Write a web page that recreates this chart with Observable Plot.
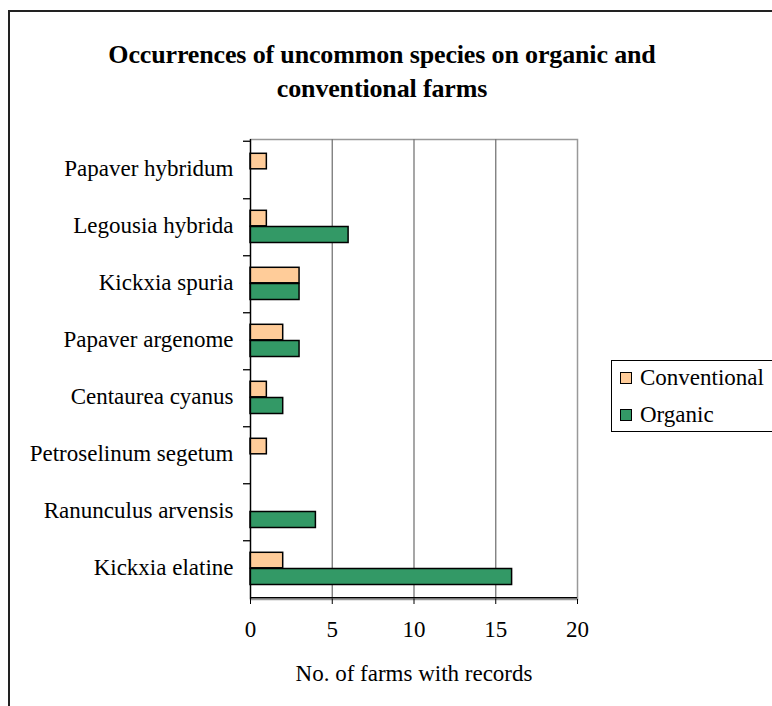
<!DOCTYPE html>
<html><head><meta charset="utf-8">
<script src="https://cdn.jsdelivr.net/npm/d3@7"></script>
<script src="https://cdn.jsdelivr.net/npm/@observablehq/plot@0.6"></script>
<style>
body{margin:0;background:#fff;}
#wrap{position:relative;width:772px;height:706px;overflow:hidden;font-family:"Liberation Serif","Times New Roman",serif;color:#000;}
#frame{position:absolute;left:8px;top:10px;width:900px;height:900px;border-left:2px solid #222;border-top:2px solid #222;pointer-events:none;}
#title{position:relative;height:116px;box-sizing:border-box;padding-top:38px;width:764px;text-align:center;font-weight:bold;font-size:26px;line-height:34px;letter-spacing:-0.15px;font-family:"Liberation Serif",serif;}
#chart svg{display:block;font-family:"Liberation Serif",serif !important;}
#chart svg text{font-family:"Liberation Serif",serif !important;}
#legend{position:absolute;left:611px;top:360px;width:200px;height:72px;border:1px solid #000;box-sizing:border-box;background:#fff;font-family:"Liberation Serif",serif;}
.item{position:absolute;left:8px;height:14px;}
.sw{position:absolute;left:0;top:0;width:10px;height:10px;border:1.5px solid #000;}
.lab{position:absolute;left:20px;top:-9px;font-size:23px;line-height:30px;white-space:nowrap;}
</style>
</head><body>
<div id="wrap">
  <div id="frame"></div>
  <div id="title">Occurrences of uncommon species on organic and<br>conventional farms</div>
  <div id="chart"></div>
  <div id="legend"></div>
</div>
<script>
const species = ["Papaver hybridum", "Legousia hybrida", "Kickxia spuria", "Papaver argenome", "Centaurea cyanus", "Petroselinum segetum", "Ranunculus arvensis", "Kickxia elatine"];
const conventional = [1, 1, 3, 2, 1, 1, 0, 2];
const organic = [0, 6, 3, 3, 2, 0, 4, 16];
const seriesNames = ["Conventional", "Organic"];
const seriesColors = ["#FFCC99", "#339966"];
const xTicks = [0, 5, 10, 15, 20];
const xLabel = "No. of farms with records";

const rows = species.map((s, i) => ({species: s, conventional: conventional[i], organic: organic[i]}));
const half = 460 / species.length / 2;
const FONT = "'Liberation Serif', 'Times New Roman', serif";

const chart = Plot.plot({
  width: 772, height: 590,
  marginTop: 23, marginBottom: 107, marginLeft: 250, marginRight: 195,
  style: "font-family: 'Liberation Serif', serif; font-size: 23px; color: #000; background: transparent; overflow: visible;",
  x: {domain: [0, 20]},
  y: {domain: species, padding: 0},
  marks: [
    Plot.frame({stroke: "#999", strokeWidth: 1.5}),
    Plot.gridX(xTicks.filter(t => t > 0 && t < 20), {stroke: "#777", strokeOpacity: 1, strokeWidth: 1.3}),
    Plot.barX(rows.filter(d => d.conventional > 0), {x: "conventional", y: "species", fill: seriesColors[0], stroke: "#000", strokeWidth: 1.5, insetTop: 12.3, insetBottom: 29.2}),
    Plot.barX(rows.filter(d => d.organic > 0), {x: "organic", y: "species", fill: seriesColors[1], stroke: "#000", strokeWidth: 1.5, insetTop: 28.5, insetBottom: 12.5}),
    Plot.ruleX([0], {stroke: "#000", strokeWidth: 1.3}),
    Plot.ruleY([species[0]], {dy: -half, x1: -0.43, x2: 0, stroke: "#000", strokeWidth: 1.3}),
    Plot.ruleY(species.slice(0, -1), {dy: half, x1: -0.43, x2: 0, stroke: "#000", strokeWidth: 1.3}),
    Plot.ruleY([species[species.length - 1]], {dy: half, x1: 0, x2: 20, stroke: "#000", strokeWidth: 1.3}),
    Plot.axisY({tickSize: 0, tickPadding: 17, fontSize: 23, fontFamily: FONT, label: null, dy: -1}),
    Plot.axisX(xTicks, {tickSize: 5, tickPadding: 16, fontSize: 23, fontFamily: FONT, stroke: "#000", label: xLabel, labelAnchor: "center", labelOffset: 81, labelArrow: "none"})
  ]
});
document.getElementById("chart").appendChild(chart);

const legend = d3.select("#legend");
const items = legend.selectAll(".item").data(seriesNames).join("div")
  .attr("class", "item")
  .style("top", (d, i) => (11 + i * 37) + "px");
items.append("div").attr("class", "sw").style("background", (d, i) => seriesColors[i]);
items.append("div").attr("class", "lab").text(d => d);
</script>
</body></html>
